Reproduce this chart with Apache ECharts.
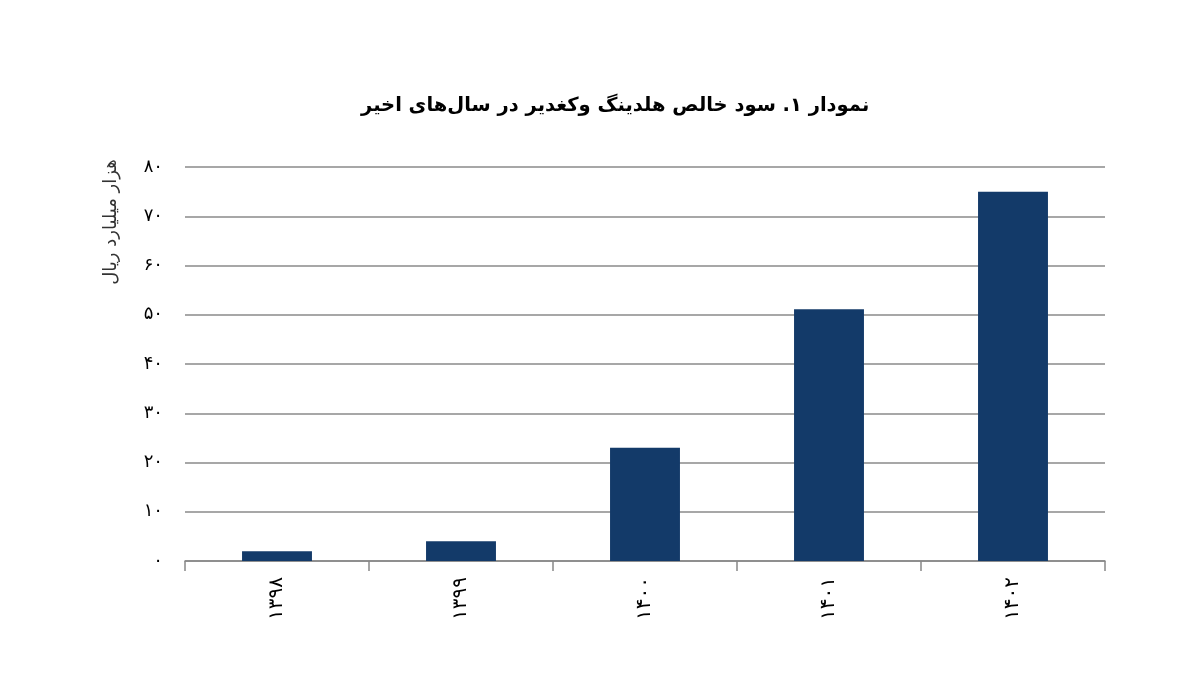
<!DOCTYPE html>
<html>
<head>
<meta charset="utf-8">
<script src="https://cdn.jsdelivr.net/npm/echarts@6/dist/echarts.min.js"></script>
<style>
html,body{margin:0;padding:0;background:#fff;}
#chart{width:1200px;height:690px;}
</style>
</head>
<body>
<div id="chart"></div>
<script>
const titleText = 'نمودار ۱. سود خالص هلدینگ وکغدیر در سال‌های اخیر';
const yAxisTitle = 'هزار میلیارد ریال';
const categories = ['۱۳۹۸', '۱۳۹۹', '۱۴۰۰', '۱۴۰۱', '۱۴۰۲'];
const netProfit = [2.0, 4.0, 23.0, 51.1, 75.0];
const persianDigits = ['۰','۱','۲','۳','۴','۵','۶','۷','۸','۹'];
const toFa = v => String(v).replace(/\d/g, d => persianDigits[+d]);

const chart = echarts.init(document.getElementById('chart'));
chart.setOption({
  backgroundColor: '#ffffff',
  animation: false,
  title: {
    text: titleText,
    left: 356,
    top: 91,
    textStyle: { fontFamily: 'DejaVu Sans, Arial, sans-serif', fontSize: 19.5, fontWeight: 'bold', color: '#000' }
  },
  grid: { left: 185, right: 95, top: 167, bottom: 129, containLabel: false },
  graphic: [{
    type: 'text',
    x: 111, y: 222,
    rotation: Math.PI / 2,
    style: {
      text: yAxisTitle,
      fontFamily: 'DejaVu Sans, Arial, sans-serif',
      fontSize: 18,
      fill: '#333',
      align: 'center',
      verticalAlign: 'middle'
    }
  }],
  xAxis: {
    type: 'category',
    data: categories,
    axisLine: { show: true, lineStyle: { color: '#888', width: 1.5 } },
    axisTick: { show: true, length: 10, alignWithLabel: false, lineStyle: { color: '#888', width: 1.5 } },
    axisLabel: {
      rotate: 90,
      margin: 16,
      fontFamily: 'DejaVu Sans, Arial, sans-serif',
      fontSize: 20,
      color: '#000'
    }
  },
  yAxis: {
    type: 'value',
    min: 0, max: 80, interval: 10,
    axisLine: { show: false },
    axisTick: { show: false },
    splitLine: { show: true, lineStyle: { color: '#8a8a8a', width: 1.5 } },
    axisLabel: {
      margin: 22,
      fontFamily: 'DejaVu Sans, Arial, sans-serif',
      fontSize: 18,
      color: '#000',
      formatter: v => toFa(v)
    }
  },
  series: [{
    type: 'bar',
    data: netProfit,
    barWidth: '38%',
    itemStyle: { color: '#133a69' }
  }]
});
</script>
</body>
</html>
